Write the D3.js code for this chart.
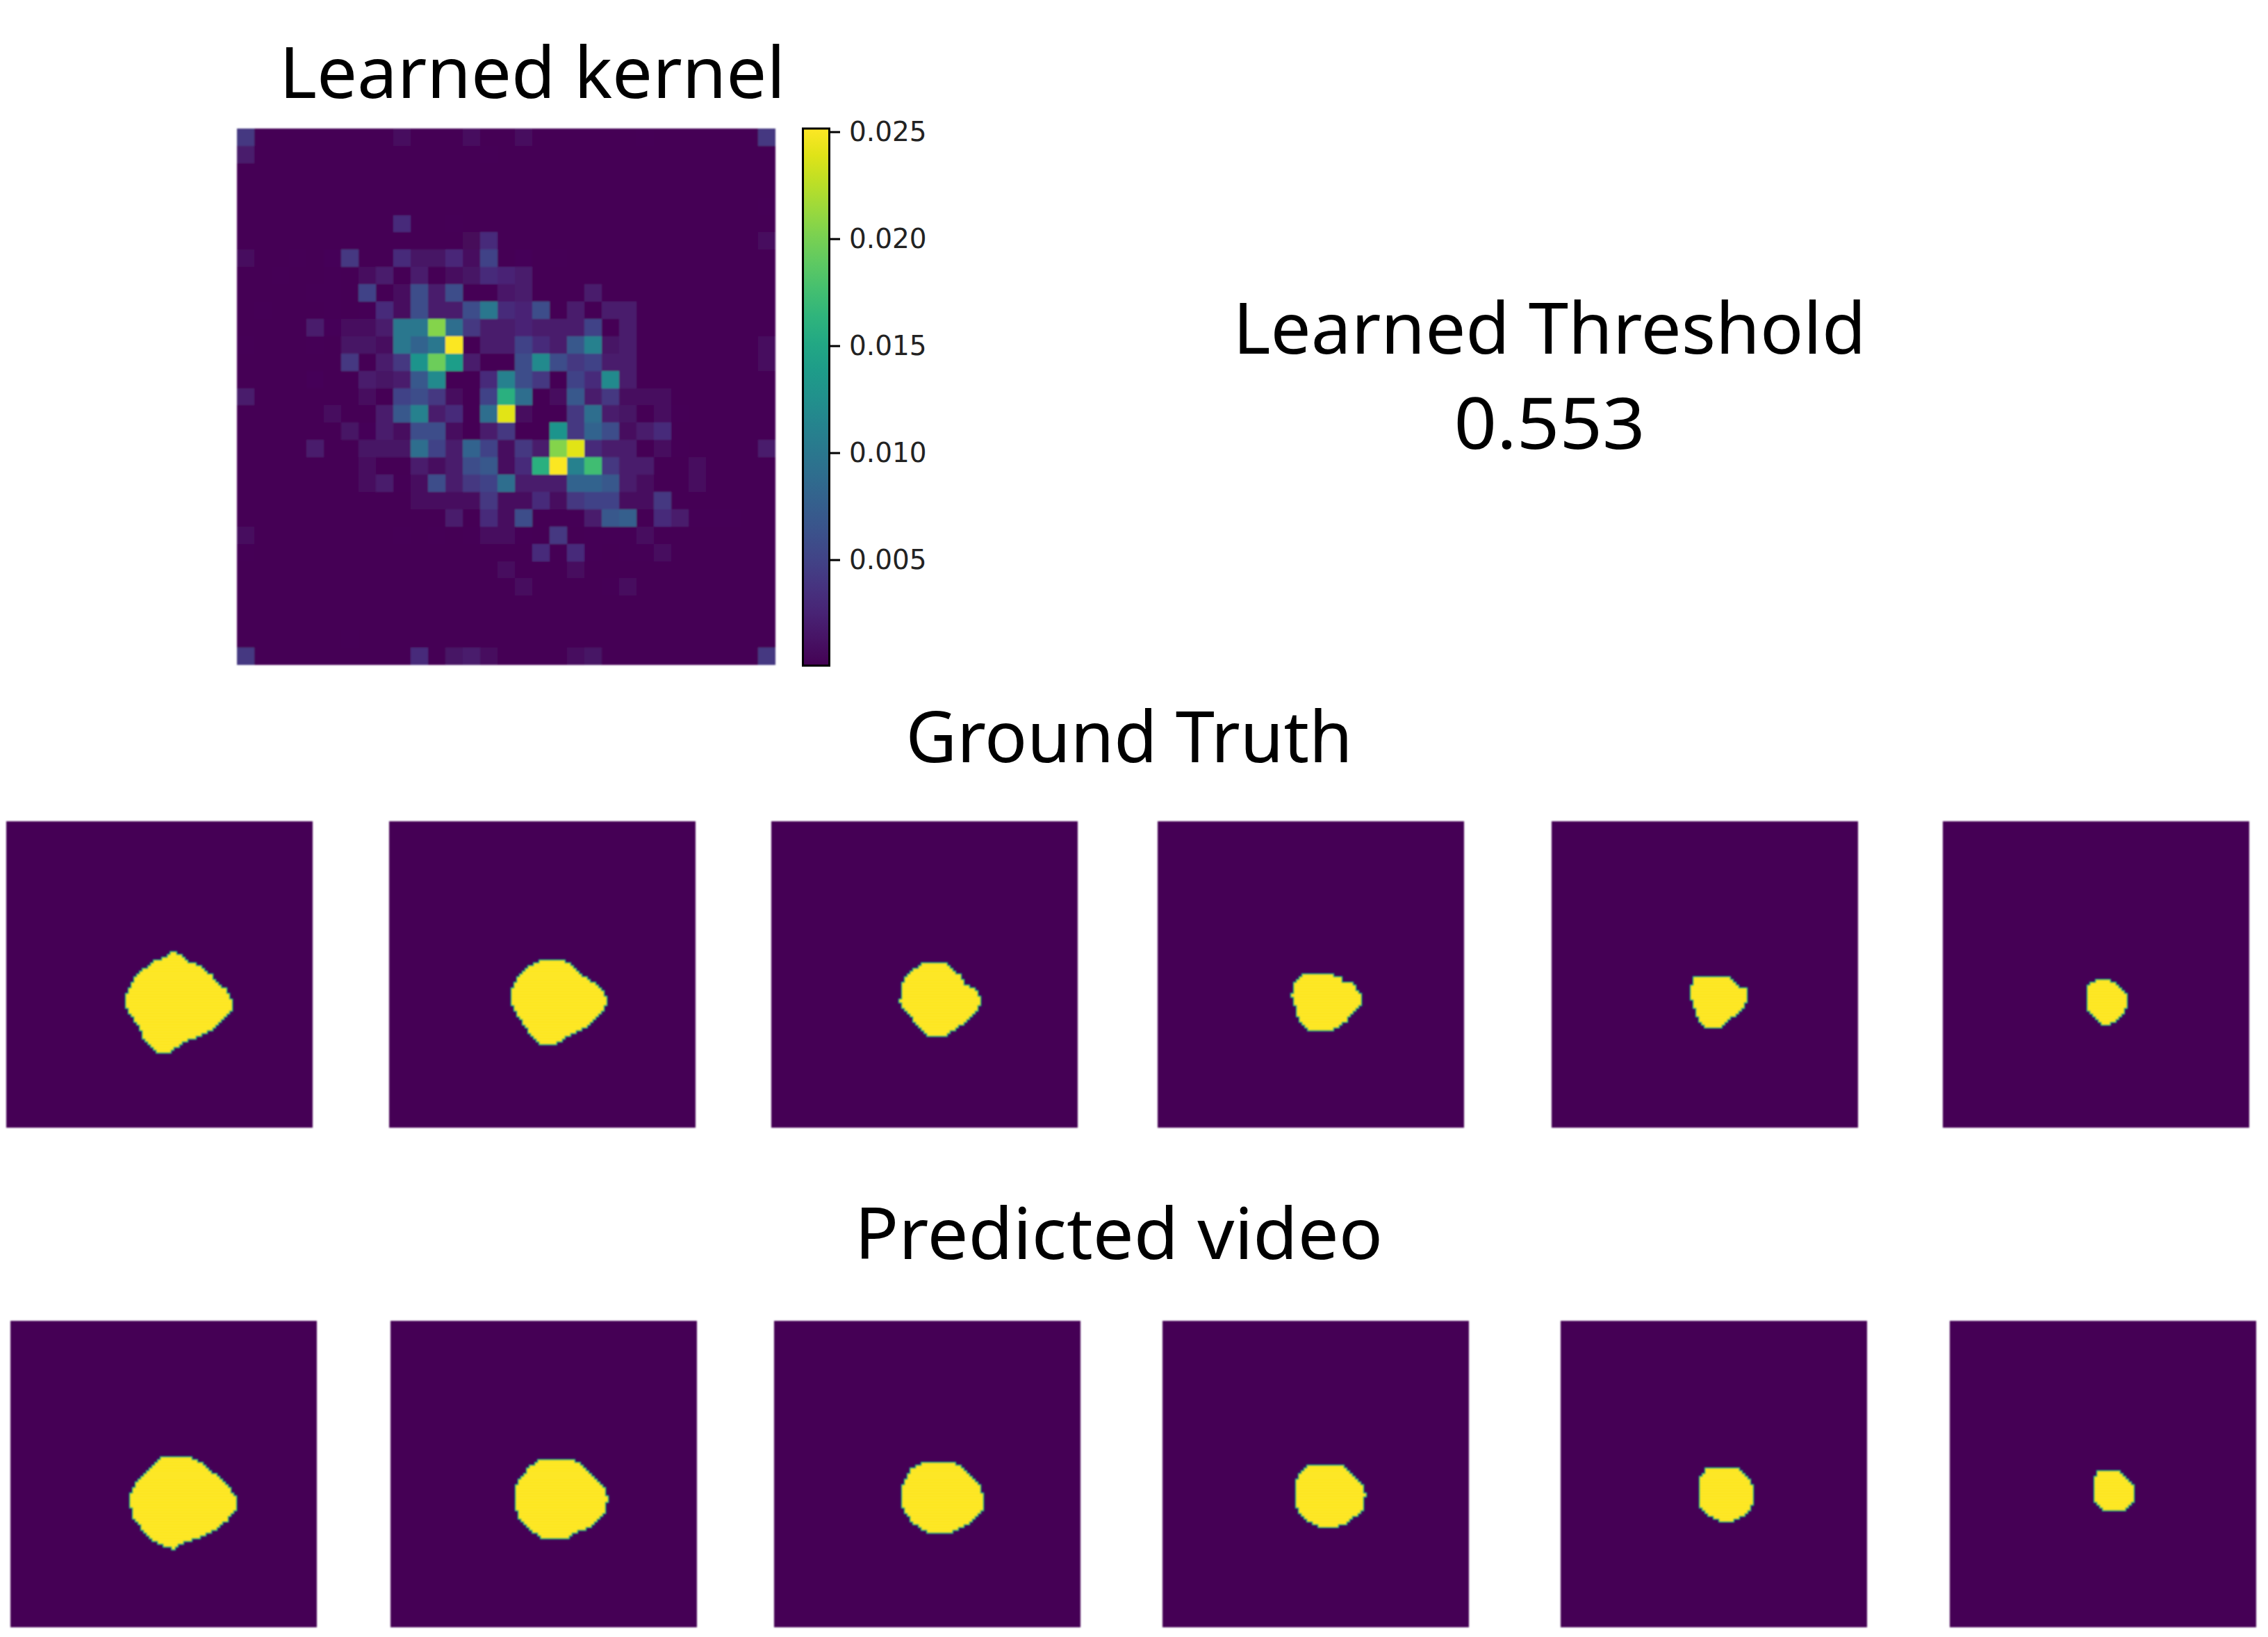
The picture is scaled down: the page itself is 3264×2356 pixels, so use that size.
<!DOCTYPE html>
<html><head><meta charset="utf-8">
<script src="https://cdn.jsdelivr.net/npm/d3@7"></script>
<style>html,body{margin:0;padding:0;background:#fff}svg{display:block}</style></head>
<body><svg id="c" width="3264" height="2356"></svg>
<script>
const kernelSize = 31;
// [row, column, value x 0.001]; every other cell is about 0
const kernelCells = [
[0,0,4],[0,9,.8],[0,13,.8],[0,16,.8],[0,23,.3],[0,30,4],[1,0,1.8],[1,14,.3],[4,30,.2],
[5,9,3],[5,12,.2],[6,13,.5],[6,14,3],[6,30,.8],
[7,0,.8],[7,3,.2],[7,5,.4],[7,6,4],[7,9,3],[7,10,1.3],[7,11,1.3],[7,12,2.8],[7,13,.8],[7,14,5],[7,16,.4],[7,18,.2],
[8,2,.2],[8,5,.3],[8,7,.8],[8,8,1.8],[8,10,1.8],[8,12,.8],[8,13,1.3],[8,14,3],[8,15,2.5],[8,16,1.8],
[9,4,.2],[9,5,.2],[9,7,5],[9,9,.8],[9,10,6],[9,11,1.8],[9,12,6],[9,15,1.5],[9,16,1.8],[9,20,1.8],
[10,1,.3],[10,5,.3],[10,7,.3],[10,8,3],[10,9,.8],[10,10,6],[10,11,1.8],[10,12,1.8],[10,13,6],[10,14,10],[10,15,3],[10,16,2.5],[10,17,6],[10,19,1.8],[10,21,1.8],[10,22,1.8],
[11,4,1.8],[11,5,.4],[11,6,.8],[11,7,.8],[11,8,1.8],[11,9,10],[11,10,10],[11,11,20.5],[11,12,9],[11,13,4],[11,14,1.8],[11,15,1.8],[11,16,2.5],[11,17,1.8],[11,18,1.8],[11,19,1.8],[11,20,5],[11,22,1.8],
[12,0,.3],[12,4,.3],[12,6,1.3],[12,7,1.3],[12,8,.8],[12,9,10],[12,10,8],[12,11,10],[12,12,25],[12,14,1.8],[12,15,1.8],[12,16,5],[12,17,3],[12,18,1.8],[12,19,7],[12,20,11],[12,21,1.3],[12,22,1.8],[12,30,.8],
[13,6,4],[13,8,1.8],[13,9,4],[13,10,13],[13,11,19.5],[13,12,14],[13,13,1.8],[13,15,.1],[13,16,6],[13,17,12],[13,18,6],[13,19,4],[13,20,5],[13,21,1.8],[13,22,1.8],[13,30,.8],
[14,4,.4],[14,7,1.8],[14,8,1.3],[14,9,1.8],[14,10,7],[14,11,12],[14,14,3],[14,15,11],[14,16,6],[14,17,4],[14,19,5],[14,20,3],[14,21,12],[14,22,1.8],
[15,0,1.8],[15,7,.8],[15,9,5],[15,10,6],[15,11,4],[15,12,.8],[15,14,5],[15,15,16],[15,16,9],[15,18,.8],[15,19,7],[15,20,1.8],[15,21,4],[15,22,.8],[15,23,.8],[15,24,.8],
[16,5,.8],[16,8,1.8],[16,9,7],[16,10,11],[16,11,1.8],[16,12,3],[16,14,9],[16,15,24],[16,16,.8],[16,19,4],[16,20,9],[16,21,1.8],[16,22,1.3],[16,24,.8],[16,25,.2],
[17,6,1.3],[17,7,.4],[17,8,1.8],[17,9,.8],[17,10,6],[17,11,6],[17,12,.8],[17,14,1.8],[17,15,4],[17,18,13],[17,19,4],[17,20,8],[17,21,6],[17,22,.8],[17,23,1.8],[17,24,3],
[18,4,1.8],[18,7,1.3],[18,8,1.3],[18,9,1.3],[18,10,9],[18,11,5],[18,12,1.8],[18,13,8],[18,14,5],[18,15,.8],[18,16,4],[18,17,1.8],[18,18,20.5],[18,19,24],[18,20,3],[18,21,1.8],[18,22,1.8],[18,24,.8],[18,25,.2],[18,30,1.8],
[19,7,.8],[19,10,1.8],[19,11,.8],[19,12,1.8],[19,13,6],[19,14,7],[19,15,.8],[19,16,3],[19,17,16],[19,18,25],[19,19,11],[19,20,17.5],[19,21,4],[19,22,1.8],[19,23,1.8],[19,26,.8],
[20,7,.8],[20,8,1.8],[20,9,.3],[20,10,.8],[20,11,6],[20,12,1.8],[20,13,4],[20,14,5],[20,15,9],[20,16,1.8],[20,17,1.8],[20,18,1.8],[20,19,8],[20,20,8],[20,21,7],[20,22,1.8],[20,23,.8],[20,26,.8],
[21,10,.8],[21,11,.8],[21,12,.8],[21,13,.8],[21,14,4],[21,15,.8],[21,16,.8],[21,17,3],[21,18,.8],[21,19,4],[21,20,5],[21,21,5],[21,22,.8],[21,23,.8],[21,24,4],
[22,12,1.8],[22,14,3],[22,15,.8],[22,16,6],[22,18,.3],[22,19,.2],[22,20,1.8],[22,21,7],[22,22,7.5],[22,24,3],[22,25,1.8],[22,26,.3],[22,27,.2],[22,28,.3],
[23,0,.8],[23,9,.2],[23,11,.2],[23,13,.2],[23,14,.8],[23,15,.8],[23,16,.3],[23,18,4],[23,20,.2],[23,21,.3],[23,22,.3],[23,23,.8],
[24,0,.3],[24,17,3],[24,19,3],[24,20,.3],[24,22,.3],[24,23,.3],[24,24,.8],
[25,15,.8],[25,19,.8],[26,16,.8],[26,21,.3],[26,22,.8],[29,6,.2],
[30,0,4],[30,10,3],[30,12,1.3],[30,13,1.8],[30,14,.8],[30,19,.8],[30,20,1.3],[30,30,4]];

const colorbarDomain = [0.00005, 0.02515];
const colorbarTicks = [0.005, 0.010, 0.015, 0.020, 0.025];
const thresholdLabel = "Learned Threshold";
const thresholdValue = "0.553";

// Blob outlines, in percent of each frame [x, y]
const groundTruthFrames = [
 [[54.9,42.6],[59.2,45.8],[62.4,47.1],[66.4,49.9],[69.6,54.1],[71.5,54.8],[74,59.8],[74,61.3],[68,67.3],[63.2,70],[57.6,71.9],[53.7,75.1],[49.2,75.1],[45.7,71.9],[42.5,65.4],[39.6,61.3],[39,58.6],[40.1,54.8],[42.5,50.3],[48.1,46.1],[52.1,44.3]],
 [[50.5,45.2],[56.8,45.2],[60,47.7],[63.2,50.7],[68.5,54.1],[70.1,55.6],[70.9,59.8],[67.5,63.9],[63.2,67.7],[58.4,70],[53.7,73],[50.2,73],[45.7,68.5],[42.5,63.9],[40.1,59.4],[40.1,55.6],[42.5,50.3],[45.7,47.7]],
 [[50.5,46.1],[56.5,46.1],[62.1,51.1],[63.2,53.7],[66.1,54.5],[68.2,58.6],[66.9,62],[62.1,66.2],[57.3,69.2],[56.2,70],[51.8,70],[49.4,68.1],[43.8,61.6],[42.2,59],[42.5,54.1],[44.6,49.9]],
 [[49,49.7],[54.6,49.7],[59.4,51.1],[61,53.1],[63.7,53.1],[66.1,57.1],[66.1,60.1],[61,65.4],[57,68.1],[49,68.1],[46.3,65.1],[45.1,60.1],[43.9,57.1],[45.1,52.2],[46.7,50.7]],
 [[47.2,50.7],[58,50.7],[59.5,52.9],[61.8,54.5],[63.8,55.2],[63.8,58.6],[61.8,61.6],[58.8,63.9],[54.9,66.9],[50.3,67.3],[48,64.3],[46.5,60.1],[45.2,56],[46.2,52.2]],
 [[50.4,52],[54.5,52],[57.3,53.7],[59.9,56.4],[59.9,60.5],[58.1,63.2],[56.5,64.9],[53.5,66.3],[51.2,65.8],[48.1,62.4],[47,59.8],[47,54.5],[48.1,53.3]]
];
const predictedFrames = [
 [[51.4,44.3],[57.8,44.3],[63.4,47.3],[70.5,53.7],[73.2,57.1],[73.2,61.7],[70.5,65.1],[66.6,68.1],[61,70.7],[54.6,73],[53,74.3],[50.6,73.4],[46.7,71.5],[42.7,67.3],[39.8,63.2],[39.2,57.5],[41.1,53.4],[45.9,48.1],[49,45.1]],
 [[50,45.1],[58,45.1],[62.7,47.3],[69.1,53.7],[70.7,57.9],[69.9,62.4],[65.9,66.6],[58.8,69.6],[58,70.9],[49.5,70.9],[45.2,67.3],[42,63.9],[40.9,60.2],[41.2,53.4],[46,47.3]],
 [[49.4,46.2],[57.6,46.2],[61.3,48.1],[66.9,54.1],[68.2,57.5],[68.2,60.9],[64.5,65.4],[59.7,68.1],[56.1,69.1],[50.6,69.1],[45.4,65.8],[42.2,60.9],[41.9,54.1],[44.6,48.5]],
 [[48.2,46.9],[57.8,46.9],[61,49.6],[65,53.4],[66.1,56.8],[65,61.7],[60.2,65.8],[56.2,67.3],[51.4,67.3],[46.7,64.7],[44.3,61.7],[43.2,56.4],[44.3,50.3]],
 [[48.3,47.8],[56.9,47.8],[61.8,52.6],[63.1,55.6],[63.1,59.4],[59.5,63.5],[55.7,65.4],[52.6,65.4],[48.8,63.5],[45.2,60.1],[45.2,51.9]],
 [[49.1,48.7],[54.6,48.7],[56.8,50.7],[60,53.7],[60,58.3],[56.8,62],[51.5,62],[48.5,60.2],[46.9,57.5],[46.9,51.9]]
];

const topRowX = [9,560,1110,1666,2233,2796];
const bottomRowX = [15,562,1114,1673,2246,2806];
const frameSize = 441;
const titleFont = '"Noto Sans", sans-serif';

const svg = d3.select("#c");
const defs = svg.append("defs");
[["soft",1.0],["softer",0.8]].forEach(([id,s])=>{
  defs.append("filter").attr("id",id).attr("x","-5%").attr("y","-5%").attr("width","110%").attr("height","110%")
    .append("feGaussianBlur").attr("stdDeviation",s);
});

const title = (t,x,y,size,width) => svg.append("text").text(t).attr("x",x).attr("y",y)
  .attr("font-family",titleFont).attr("font-size",size).attr("text-anchor","middle").attr("fill","#000")
  .attr("textLength",width).attr("lengthAdjust","spacingAndGlyphs");
title("Learned kernel",766,141,103,728);
title(thresholdLabel,2230,509,103,911);
title(thresholdValue,2230,646,103,275);
title("Ground Truth",1625,1097,103,643);
title("Predicted video",1610,1812,103,760);

// Heatmap
const hx = d3.scaleBand().domain(d3.range(kernelSize)).range([341,1116]);
const hy = d3.scaleBand().domain(d3.range(kernelSize)).range([185,957]);
const color = d3.scaleSequential(d3.interpolateViridis).domain(colorbarDomain).clamp(true);
const hg = svg.append("g").attr("filter","url(#soft)");
hg.append("rect").attr("x",341).attr("y",185).attr("width",775).attr("height",772).attr("fill",color(0));
hg.selectAll(".cell").data(kernelCells).join("rect").attr("class","cell")
  .attr("x",d=>hx(d[1])).attr("y",d=>hy(d[0]))
  .attr("width",hx.bandwidth()).attr("height",hy.bandwidth())
  .attr("fill",d=>color(d[2]*0.001)).attr("shape-rendering","crispEdges");

// Colorbar
const cbY = d3.scaleLinear().domain(colorbarDomain).range([958,185]);
const grad = defs.append("linearGradient").attr("id","vir").attr("x1",0).attr("x2",0).attr("y1",1).attr("y2",0);
d3.range(0,1.0001,0.05).forEach(t=>grad.append("stop").attr("offset",t).attr("stop-color",d3.interpolateViridis(t)));
svg.append("rect").attr("x",1155.5).attr("y",185).attr("width",38).attr("height",773)
  .attr("fill","url(#vir)").attr("stroke","#000").attr("stroke-width",3);
const axis = d3.axisRight(cbY).tickValues(colorbarTicks).tickFormat(d3.format(".3f")).tickSize(15).tickPadding(13);
const ag = svg.append("g").attr("transform","translate(1194,0)").call(axis);
ag.select(".domain").remove();
ag.selectAll("line").attr("stroke","#000").attr("stroke-width",3);
ag.selectAll("text").attr("font-family",'"DejaVu Sans", sans-serif').attr("font-size",39).attr("fill","#222");

// Frames
function drawFrame(outline,x0,y0){
  const N = 110;
  const px = d3.scaleLinear().domain([0,N]).range([x0,x0+frameSize]);
  const py = d3.scaleLinear().domain([0,N]).range([y0,y0+frameSize]);
  const g = svg.append("g");
  g.append("rect").attr("x",x0).attr("y",y0).attr("width",frameSize).attr("height",frameSize)
    .attr("fill",color(0)).attr("filter","url(#softer)");
  let d = "";
  for(let r=0;r<N;r++){
    let start=-1;
    for(let c=0;c<=N;c++){
      const inside = c<N && d3.polygonContains(outline,[(c+.5)/N*100,(r+.5)/N*100]);
      if(inside && start<0) start=c;
      if(!inside && start>=0){
        d += `M${px(start)},${py(r)}H${px(c)}V${py(r+1)}H${px(start)}Z`;
        start=-1;
      }
    }
  }
  g.append("path").attr("d",d).attr("fill","none").attr("stroke","#1f9e89").attr("stroke-width",3.4)
    .attr("filter","url(#soft)");
  g.append("path").attr("d",d).attr("fill","#fde725").attr("stroke","#fde725").attr("stroke-width",0.5)
    .attr("filter","url(#soft)");
}
groundTruthFrames.forEach((o,i)=>drawFrame(o,topRowX[i],1182));
predictedFrames.forEach((o,i)=>drawFrame(o,bottomRowX[i],1901));
</script></body></html>
